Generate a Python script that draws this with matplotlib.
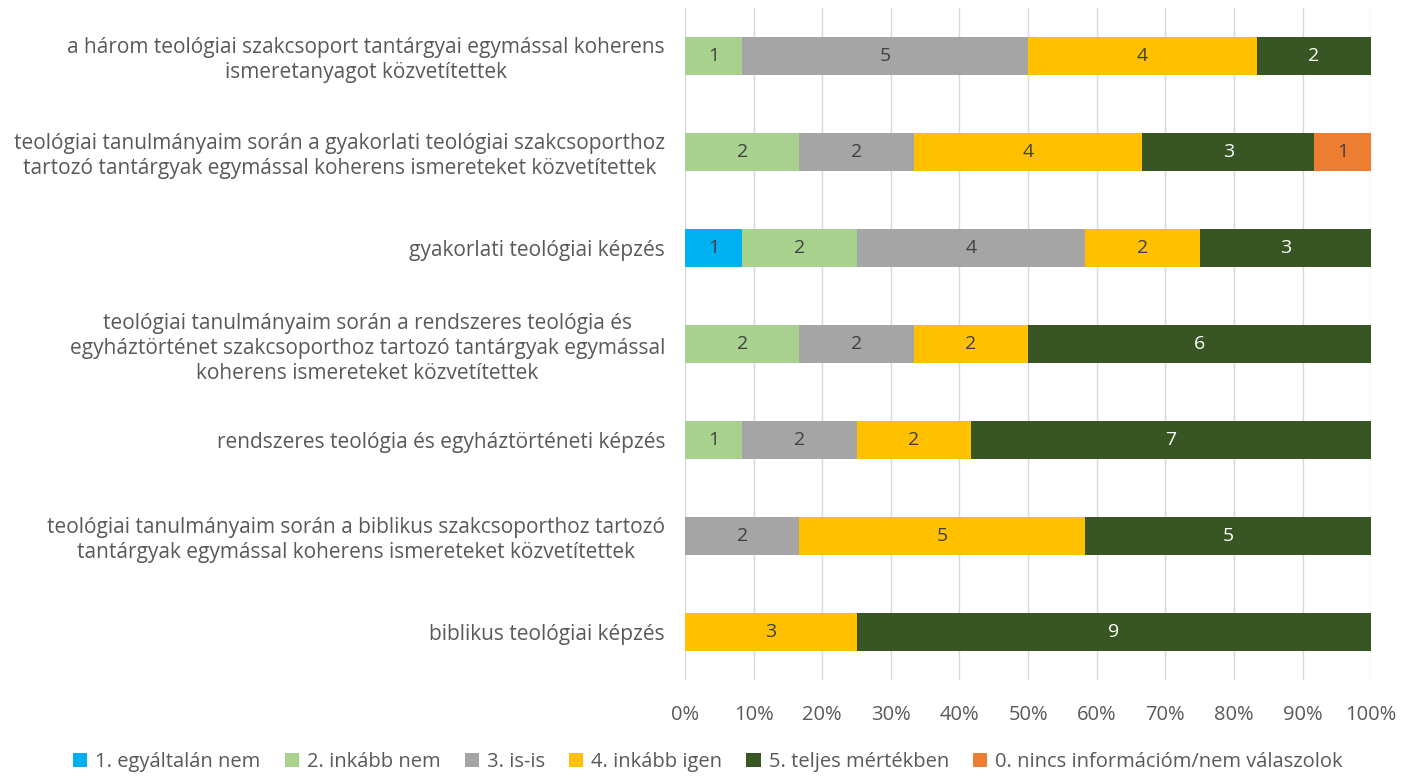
import numpy as np
import matplotlib.pyplot as plt

plt.rcParams['font.family'] = ['Open Sans', 'DejaVu Sans']

# kategóriák fentről lefelé
categories = [
    "a három teológiai szakcsoport tantárgyai egymással koherens\nismeretanyagot közvetítettek",
    "teológiai tanulmányaim során a gyakorlati teológiai szakcsoporthoz\ntartozó tantárgyak egymással koherens ismereteket közvetítettek",
    "gyakorlati teológiai képzés",
    "teológiai tanulmányaim során a rendszeres teológia és\negyháztörténet szakcsoporthoz tartozó tantárgyak egymással\nkoherens ismereteket közvetítettek",
    "rendszeres teológia és egyháztörténeti képzés",
    "teológiai tanulmányaim során a biblikus szakcsoporthoz tartozó\ntantárgyak egymással koherens ismereteket közvetítettek",
    "biblikus teológiai képzés",
]

series_names = ["1. egyáltalán nem", "2. inkább nem", "3. is-is",
                "4. inkább igen", "5. teljes mértékben",
                "0. nincs információm/nem válaszolok"]
colors = ["#00B0F0", "#A9D18E", "#A5A5A5", "#FFC000", "#375623", "#ED7D31"]
label_colors = ["#404040", "#404040", "#404040", "#404040", "white", "#404040"]

s1 = [0, 0, 1, 0, 0, 0, 0]
s2 = [1, 2, 2, 2, 1, 0, 0]
s3 = [5, 2, 4, 2, 2, 2, 0]
s4 = [4, 4, 2, 2, 2, 5, 3]
s5 = [2, 3, 3, 6, 7, 5, 9]
s0 = [0, 1, 0, 0, 0, 0, 0]

data = np.array([s1, s2, s3, s4, s5, s0], dtype=float)
totals = data.sum(axis=0)
pct = data / totals

fig = plt.figure(figsize=(14.16, 7.76), dpi=100)
ax = fig.add_axes([0.4838, 0.124, 0.4845, 0.866])

y = np.arange(len(categories))
left = np.zeros(len(categories))
for i in range(len(series_names)):
    bars = ax.barh(y, pct[i], left=left, height=0.4, color=colors[i],
                   label=series_names[i], zorder=3)
    for j, b in enumerate(bars):
        if data[i, j] > 0:
            ax.text(left[j] + pct[i, j] / 2, y[j], str(int(data[i, j])),
                    ha='center', va='center', fontsize=14, color=label_colors[i], zorder=4)
    left += pct[i]

ax.set_ylim(len(categories) - 0.5, -0.5)
ax.set_xlim(0, 1)
ax.set_xticks(np.arange(0, 1.01, 0.1))
ax.set_xticklabels([f"{int(round(v*100))}%" for v in np.arange(0, 1.01, 0.1)])
ax.set_yticks(y)
ax.set_yticklabels(categories, ha='center', multialignment='center', linespacing=1.25)
ax.tick_params(axis='y', length=0, pad=0, labelsize=15, labelcolor='#595959')
ax.tick_params(axis='x', length=0, pad=18, labelsize=14.5, labelcolor='#595959')
# igazítás: a címkék közepe
fig.canvas.draw()
renderer = fig.canvas.get_renderer()
for lab in ax.get_yticklabels():
    bb = lab.get_window_extent(renderer)
    lab.set_x(-(bb.width / 2 + 20) / (ax.get_window_extent(renderer).width))
ax.grid(axis='x', color='#D9D9D9', linewidth=1, zorder=0)
for s in ax.spines.values():
    s.set_visible(False)

fig.legend(loc='lower center', ncol=6, frameon=False, fontsize=14.5,
           bbox_to_anchor=(0.5, -0.018), handlelength=0.7, handleheight=0.7,
           columnspacing=1.2, handletextpad=0.4, labelcolor='#595959')

fig.savefig("out.png", dpi=100)
